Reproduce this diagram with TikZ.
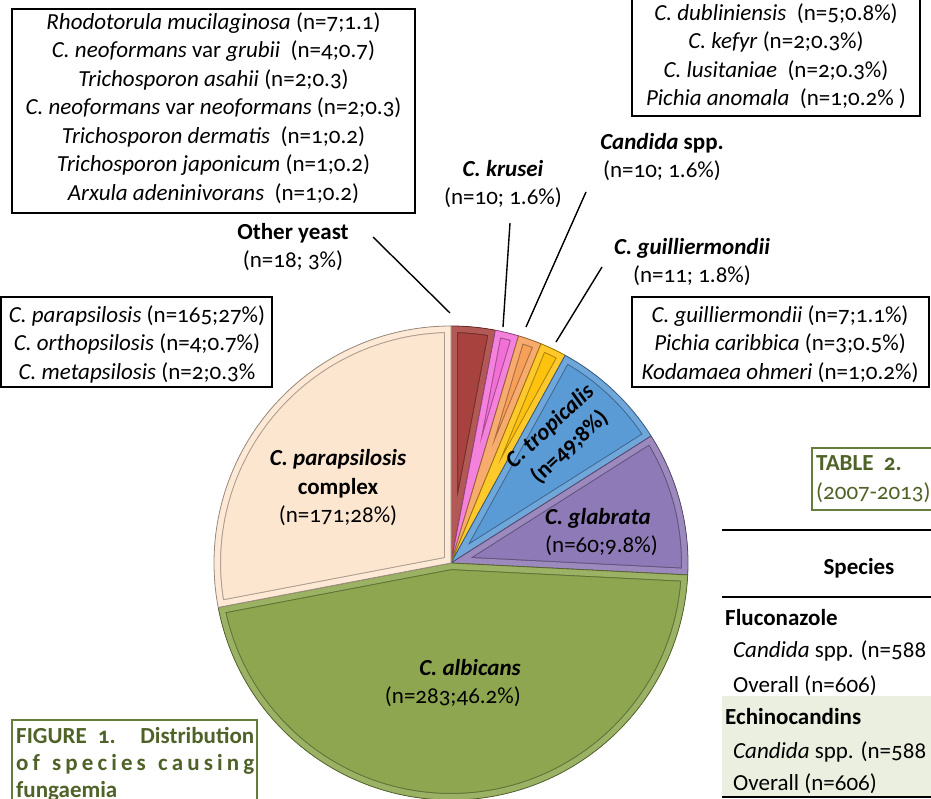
\documentclass[tikz,border=0pt]{standalone}
\usepackage{fontspec}
\setmainfont{Carlito}[Numbers=OldStyle]
\usetikzlibrary{calc}
\definecolor{cOther}{RGB}{168,66,62}
\definecolor{cKrusei}{RGB}{242,112,214}
\definecolor{cSpp}{RGB}{247,160,90}
\definecolor{cGuill}{RGB}{255,194,14}
\definecolor{cTrop}{RGB}{91,155,213}
\definecolor{cGlab}{RGB}{142,122,182}
\definecolor{cAlbi}{RGB}{141,166,79}
\definecolor{cPara}{RGB}{253,230,207}
\definecolor{capgreen}{RGB}{79,98,40}
\definecolor{capframe}{RGB}{100,125,60}
\definecolor{tabshade}{RGB}{235,239,223}
\newcommand{\slicepath}[2]{(0,0) -- (#1:237) arc[start angle=#1,end angle=#2,radius=237] -- cycle}
\newcommand{\pieslice}[3]{%
  \fill[#3] \slicepath{#1}{#2};
  \begin{scope}
    \clip \slicepath{#1}{#2};
    \draw[#3!68!black, line width=14pt, line join=round] \slicepath{#1}{#2};
    \draw[#3!88!white, line width=12pt, line join=round] \slicepath{#1}{#2};
  \end{scope}
  \draw[#3!60!black, line width=0.8pt, line join=round] \slicepath{#1}{#2};
}
\tikzset{
  txt/.style={font=\fontsize{23}{28.5}\selectfont, inner sep=0pt, align=center},
  frame/.style={draw=black, line width=1.5pt, inner sep=0pt},
  leader/.style={draw=black, line width=1.4pt},
  rule/.style={draw=black, line width=2.5pt},
}
\begin{document}
\begin{tikzpicture}[x=1pt,y=1pt]
\useasboundingbox (0,0) rectangle (931,-799);
\clip (0,0) rectangle (931,-799);

% pie
\begin{scope}[shift={(451,-563)}]
  \pieslice{90}{79.2}{cOther}
  \pieslice{79.2}{73.44}{cKrusei}
  \pieslice{73.44}{67.68}{cSpp}
  \pieslice{67.68}{61.2}{cGuill}
  \pieslice{61.2}{32.4}{cTrop}
  \pieslice{32.4}{-2.88}{cGlab}
  \pieslice{-2.88}{-169.2}{cAlbi}
  \pieslice{-169.2}{-270}{cPara}
\end{scope}

% boxes
\node[frame, minimum width=403, minimum height=204] (tlframe) at (213.5,-111) {};
\node[txt] (tltext) at (213.5,-108) {\textit{Rhodotorula mucilaginosa} (n=7;1.1)\\
\textit{C. neoformans} var \textit{grubii}\ \ (n=4;0.7)\\
\textit{Trichosporon asahii} (n=2;0.3)\\
\textit{C. neoformans} var \textit{neoformans} (n=2;0.3)\\
\textit{Trichosporon dermatis}\ \ (n=1;0.2)\\
\textit{Trichosporon japonicum} (n=1;0.2)\\
\textit{Arxula adeninivorans}\ \ (n=1;0.2)};

\node[frame, minimum width=288, minimum height=140] (trframe) at (776,-46) {};
\node[txt] (trtext) at (776,-56) {\textit{C. dubliniensis}\ \ (n=5;0.8\%)\\
\textit{C. kefyr} (n=2;0.3\%)\\
\textit{C. lusitaniae}\ \ (n=2;0.3\%)\\
\textit{Pichia anomala}\ \ (n=1;0.2\% )};

\node[frame, minimum width=271, minimum height=90] (lframe) at (136.5,-342) {};
\node[txt] (ltext) at (137,-344) {\textit{C. parapsilosis} (n=165;27\%)\\
\textit{C. orthopsilosis} (n=4;0.7\%)\\
\textit{C. metapsilosis} (n=2;0.3\%};

\node[frame, minimum width=297, minimum height=90] (rframe) at (780.5,-342) {};
\node[txt] (rtext) at (780,-344) {\textit{C. guilliermondii} (n=7;1.1\%)\\
\textit{Pichia caribbica} (n=3;0.5\%)\\
\textit{Kodamaea ohmeri} (n=1;0.2\%)};

% outside labels
\node[txt] (lother) at (293,-247) {\textbf{Other yeast}\\(n=18; 3\%)};
\node[txt] (lkrusei) at (503,-184) {\textbf{\textit{C. krusei}}\\(n=10; 1.6\%)};
\node[txt] (lspp) at (662,-157) {\textbf{\textit{Candida} spp.}\\(n=10; 1.6\%)};
\node[txt] (lguill) at (692,-262) {\textbf{\textit{C. guilliermondii}}\\(n=11; 1.8\%)};

% leaders
\coordinate (oA) at (373,-237); \coordinate (oB) at (450,-313);
\coordinate (kA) at (510,-223); \coordinate (kB) at (503,-327);
\coordinate (sA) at (586,-192); \coordinate (sB) at (526,-327);
\coordinate (gA) at (602,-267); \coordinate (gB) at (556,-342);
\draw[leader] (oA) -- (oB);
\draw[leader] (kA) -- (kB);
\draw[leader] (sA) -- (sB);
\draw[leader] (gA) -- (gB);

% inside labels
\node[txt] (lpara) at (338,-488) {\textbf{\textit{C. parapsilosis}}\\\textbf{complex}\\(n=171;28\%)};
\node[txt, align=left, anchor=west] (lglab) at (545,-532) {\textbf{\textit{C. glabrata}}\\(n=60;9.8\%)};
\node[txt, align=right, anchor=east] (lalbi) at (521,-683) {\textbf{\textit{C. albicans}}\\(n=283;46.2\%)};
\node[txt, rotate=43] (ltrop) at (560,-437) {\textbf{\textit{C. tropicalis}}\\\textbf{(n=49;8\%)}};

% caption box
\node[draw=capframe, line width=1.8pt, minimum width=245, minimum height=120, inner sep=0pt] (capframe) at (134.5,-780) {};
\node[font=\fontsize{23}{27}\selectfont\bfseries, text=capgreen, inner sep=0pt, align=left, anchor=north west] (captext) at (16,-727) {%
\makebox[238pt][s]{FIGURE 1. Distribution}\\
\makebox[238pt][s]{o\hfil f\hfil\hfil\hfil s\hfil p\hfil e\hfil c\hfil i\hfil e\hfil s\hfil\hfil\hfil c\hfil a\hfil u\hfil s\hfil i\hfil n\hfil g}\\
fungaemia};

% table
\node[draw=capframe, line width=1.8pt, minimum width=140, minimum height=62, inner sep=0pt] (tabframe) at (882,-479) {};
\node[font=\fontsize{23}{28.5}\selectfont, text=capgreen, inner sep=0pt, align=left, anchor=west] (tabtitle) at (816,-479) {\textbf{TABLE\ \ 2.}\\(2007-2013)};
\fill[tabshade] (722,-696) rectangle (931,-797);
\coordinate (r1a) at (722,-530); \coordinate (r1b) at (931,-530);
\coordinate (r2a) at (722,-597); \coordinate (r2b) at (931,-597);
\coordinate (r3a) at (722,-797); \coordinate (r3b) at (931,-797);
\draw[rule] (r1a) -- (r1b);
\draw[rule] (r2a) -- (r2b);
\draw[rule] (r3a) -- (r3b);
\node[txt] (species) at (859,-568) {\textbf{Species}};
\node[txt, anchor=west] (flu) at (725,-618) {\textbf{Fluconazole}};
\node[txt, anchor=west] (flu1) at (733,-651) {\textit{Candida} spp. (n=588};
\node[txt, anchor=west] (flu2) at (733,-686) {Overall (n=606)};
\node[txt, anchor=west] (ech) at (725,-717) {\textbf{Echinocandins}};
\node[txt, anchor=west] (ech1) at (733,-752) {\textit{Candida} spp. (n=588};
\node[txt, anchor=west] (ech2) at (733,-784) {Overall (n=606)};
\end{tikzpicture}
\end{document}
